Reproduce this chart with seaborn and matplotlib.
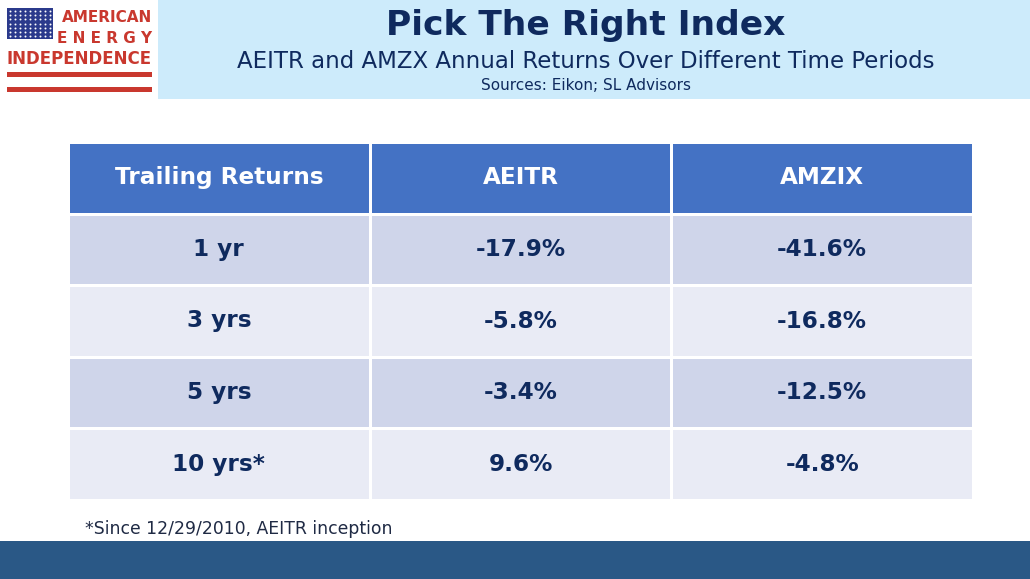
import numpy as np
import pandas as pd
import matplotlib
matplotlib.use("Agg")
import matplotlib.pyplot as plt
from matplotlib.colors import ListedColormap
from matplotlib.patches import Rectangle
import seaborn as sns

# ---- data ----
columns = ["Trailing Returns", "AEITR", "AMZIX"]
periods = ["1 yr", "3 yrs", "5 yrs", "10 yrs*"]
aeitr = ["-17.9%", "-5.8%", "-3.4%", "9.6%"]
amzix = ["-41.6%", "-16.8%", "-12.5%", "-4.8%"]

title = "Pick The Right Index"
subtitle = "AEITR and AMZX Annual Returns Over Different Time Periods"
sources = "Sources: Eikon; SL Advisors"
footnote = "*Since 12/29/2010, AEITR inception"

sns.set_theme(style="white")
plt.rcParams['font.family'] = ['DejaVu Sans']

W, H = 1030, 579
fig = plt.figure(figsize=(W / 100, H / 100), dpi=100)
fig.patch.set_facecolor("white")

# background/decoration axes in pixel coords
bg = fig.add_axes([0, 0, 1, 1])
bg.set_xlim(0, W)
bg.set_ylim(H, 0)
bg.axis("off")

navy = "#0F2A5E"
# title box
bg.add_patch(Rectangle((158, 0), W - 158, 99, color="#CDEBFB", lw=0))
bg.text(586, 26, title, ha="center", va="center", fontsize=24.8, fontweight="bold", color=navy)
bg.text(586, 62, subtitle, ha="center", va="center", fontsize=16.5, color=navy)
bg.text(586, 85, sources, ha="center", va="center", fontsize=11, color=navy)

# logo
red = "#C9382E"
bg.add_patch(Rectangle((7, 8), 46, 31, color="#2B3A8C", lw=0))
sx, sy = np.meshgrid(np.linspace(10, 50, 9), np.linspace(11, 36, 7))
bg.scatter(sx.ravel(), sy.ravel(), s=2, color="white", lw=0)
bg.text(152, 17, "AMERICAN", ha="right", va="center", fontsize=11, fontweight="bold", color=red)
bg.text(152, 38.5, "E N E R G Y", ha="right", va="center", fontsize=11, fontweight="bold", color=red)
bg.text(79.5, 58.5, "INDEPENDENCE", ha="center", va="center", fontsize=12, fontweight="bold", color=red)
bg.add_patch(Rectangle((7, 72), 145, 5, color=red, lw=0))
bg.add_patch(Rectangle((7, 87), 145, 5, color=red, lw=0))

# footnote and bottom band
bg.text(85, 529, footnote, ha="left", va="center", fontsize=12.4, color="#1F2A44")
bg.add_patch(Rectangle((0, 541), W, H - 541, color="#2A5886", lw=0))

# ---- table via seaborn heatmap ----
body = pd.DataFrame({columns[0]: periods, columns[1]: aeitr, columns[2]: amzix})
labels = np.vstack([np.array(columns)[None, :], body.values])
band = np.zeros(labels.shape)
for i in range(1, labels.shape[0]):
    band[i, :] = 1 if i % 2 == 1 else 2
cmap = ListedColormap(["#4472C4", "#CFD5EA", "#E9EBF5"])

left, right, top, bottom = 68, 973, 142, 500
ax = fig.add_axes([left / W, (H - bottom) / H, (right - left) / W, (bottom - top) / H])
sns.heatmap(band, ax=ax, cmap=cmap, vmin=-0.5, vmax=2.5, cbar=False,
            annot=labels, fmt="", linewidths=1.0, linecolor="white",
            annot_kws={"fontsize": 16.7, "fontweight": "bold"},
            xticklabels=False, yticklabels=False)
for t in ax.texts:
    t.set_color("white" if t.get_text() in columns else "#0F2A5E")
ax.set_xticks([])
ax.set_yticks([])

fig.savefig("out.png", dpi=100, facecolor="white")
